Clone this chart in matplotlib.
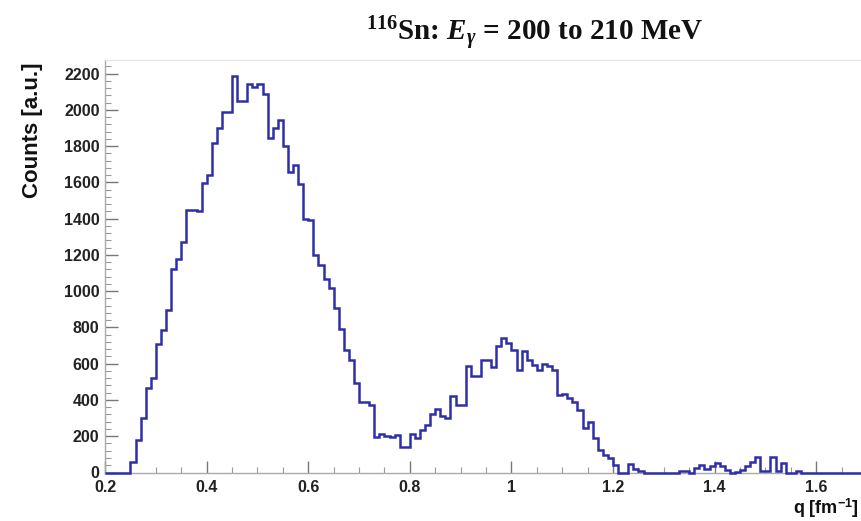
import numpy as np
import matplotlib
matplotlib.use("Agg")
import matplotlib.pyplot as plt
from matplotlib.ticker import MultipleLocator

plt.rcParams["font.family"] = ["Liberation Sans", "DejaVu Sans"]
plt.rcParams["mathtext.fontset"] = "custom"
plt.rcParams["mathtext.rm"] = "Liberation Serif:bold"
plt.rcParams["mathtext.it"] = "Liberation Serif:italic:bold"
plt.rcParams["mathtext.bf"] = "Liberation Serif:bold"

# histogram binning in q [fm^-1]
q_min = 0.20
q_max = 1.70
bin_width = 0.01

# counts per bin, starting at q = 0.20
counts = [
    0, 0, 0, 0, 0,                                   # 0.20 - 0.24
    60, 180, 300, 465, 520, 710, 785, 895, 1125, 1175,   # 0.25 - 0.34
    1270, 1450, 1450, 1440, 1595, 1640, 1815, 1900, 1990, 1990,  # 0.35 - 0.44
    2185, 2050, 2050, 2140, 2125, 2145, 2090, 1845, 1900, 1945,  # 0.45 - 0.54
    1800, 1660, 1695, 1590, 1400, 1390, 1200, 1145, 1065, 1020,  # 0.55 - 0.64
    905, 790, 675, 620, 495, 390, 390, 370, 195, 215,            # 0.65 - 0.74
    200, 195, 205, 140, 140, 210, 190, 235, 260, 320,            # 0.75 - 0.84
    350, 310, 300, 420, 370, 370, 585, 530, 530, 620,            # 0.85 - 0.94
    620, 580, 700, 740, 715, 675, 565, 670, 620, 595,            # 0.95 - 1.04
    565, 600, 585, 565, 425, 435, 410, 390, 345, 245,            # 1.05 - 1.14
    280, 190, 125, 95, 80, 40, 0, 0, 45, 20,                     # 1.15 - 1.24
    10, 0, 0, 0, 0, 0, 0, 0, 8, 8,                               # 1.25 - 1.34
    0, 25, 40, 20, 35, 50, 35, 15, 0, 5,                         # 1.35 - 1.44
    15, 35, 60, 88, 10, 10, 84, 10, 55, 0,                       # 1.45 - 1.54
    0, 10, 0, 0, 0, 0, 0, 0, 0, 0,                               # 1.55 - 1.64
    0, 0, 0, 0, 0,                                               # 1.65 - 1.69
]

title = r"$^{116}$Sn: $E_{\gamma}$ = 200 to 210 MeV"
x_label = r"q [fm$^{\mathregular{-1}}$]"
y_label = "Counts [a.u.]"

edges = np.round(q_min + bin_width * np.arange(len(counts) + 1), 2)

W, H = 862, 521
fig = plt.figure(figsize=(W / 100, H / 100), dpi=100)
ax = fig.add_axes([105.1 / W, 1 - 472.5 / H, (867 - 105.1) / W, (472.5 - 60) / H])

ax.stairs(counts, edges, baseline=None, color="#2e2eaa", linewidth=1.8,
          clip_on=False, zorder=3)

ax.set_xlim(q_min, q_max)
ax.set_ylim(0, 2275)

ax.xaxis.set_major_locator(MultipleLocator(0.2))
ax.xaxis.set_minor_locator(MultipleLocator(0.05))
ax.yaxis.set_major_locator(MultipleLocator(200))
ax.yaxis.set_minor_locator(MultipleLocator(40))


def fmt_x(v, pos):
    s = f"{v:.1f}"
    return "1" if s == "1.0" else s


ax.xaxis.set_major_formatter(plt.FuncFormatter(fmt_x))
ax.yaxis.set_major_formatter(plt.FuncFormatter(lambda v, p: f"{int(round(v))}"))

ax.tick_params(axis="both", which="major", direction="in", length=9, width=1,
               color="#777777", labelsize=11.5, labelcolor="#222222")
ax.tick_params(axis="both", which="minor", direction="in", length=4.5, width=0.8,
               color="#999999")
ax.tick_params(axis="x", pad=5.5)
ax.tick_params(axis="y", pad=4)
for lab in ax.get_xticklabels() + ax.get_yticklabels():
    lab.set_fontweight("bold")

for side in ("left", "bottom"):
    ax.spines[side].set_color("#aaaaaa")
    ax.spines[side].set_linewidth(1.0)
ax.spines["top"].set_color("#e4e4e4")
ax.spines["right"].set_visible(False)

fig.text(535 / W, 1 - 34 / H, title, ha="center", va="center", fontsize=21,
         family=["Liberation Serif"], fontweight="bold", color="#111111")
fig.text(33 / W, 1 - 62 / H, y_label, rotation=90, ha="center", va="top",
         fontsize=16, fontweight="bold", color="#111111")
fig.text(859 / W, 1 - 513.5 / H, x_label, ha="right", va="baseline",
         fontsize=13, fontweight="bold", color="#111111")

fig.savefig("out.png", dpi=100)
